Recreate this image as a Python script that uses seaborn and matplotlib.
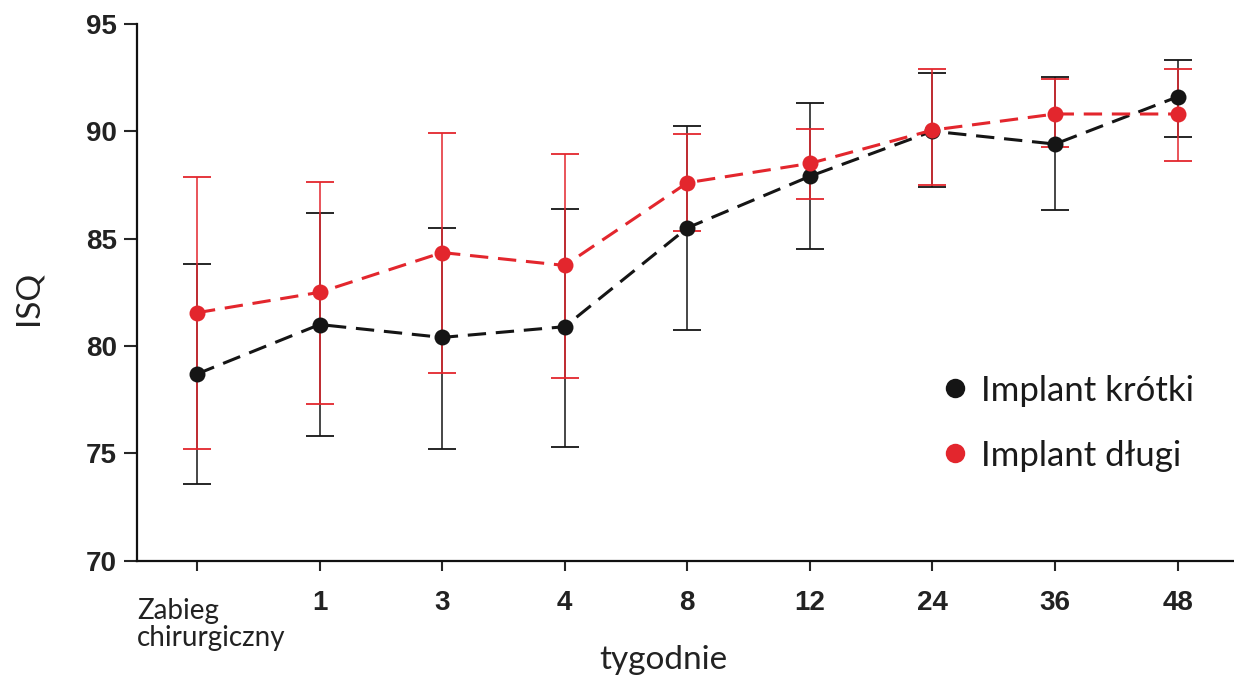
import numpy as np
import pandas as pd
import matplotlib
matplotlib.use("Agg")
import matplotlib.pyplot as plt
from matplotlib.lines import Line2D
import seaborn as sns

# Data
weeks = ["Zabieg\nchirurgiczny", "1", "3", "4", "8", "12", "24", "36", "48"]

short_mean = [78.7, 81.0, 80.4, 80.9, 85.5, 87.9, 90.0, 89.4, 91.6]
short_upper = [83.8, 86.2, 85.5, 86.4, 90.25, 91.3, 92.7, 92.5, 93.3]
short_lower = [73.6, 75.8, 75.2, 75.3, 80.75, 84.5, 87.4, 86.35, 89.75]

long_mean = [81.55, 82.5, 84.35, 83.75, 87.6, 88.5, 90.05, 90.8, 90.8]
long_upper = [87.85, 87.65, 89.9, 88.95, 89.85, 90.1, 92.9, 92.45, 92.9]
long_lower = [75.2, 77.3, 78.75, 78.5, 85.35, 86.85, 87.5, 89.25, 88.6]

labels = ["Implant krótki", "Implant długi"]
colors = {"Implant krótki": "#151515", "Implant długi": "#e3262d"}

pos = np.arange(len(weeks))
df = pd.DataFrame({
    "tydzien": np.concatenate([pos, pos]),
    "ISQ": short_mean + long_mean,
    "grupa": [labels[0]] * len(weeks) + [labels[1]] * len(weeks),
})

sns.set_theme(style="white")
plt.rcParams["font.family"] = ["Lato", "DejaVu Sans"]

fig = plt.figure(figsize=(12.34, 6.79), dpi=100)
ax = fig.add_axes([0.111, 0.174, 0.889, 0.791])

# error bars (black first, red on top)
ax.errorbar(pos, short_mean,
            yerr=[np.array(short_mean) - np.array(short_lower),
                  np.array(short_upper) - np.array(short_mean)],
            fmt="none", ecolor=colors[labels[0]], elinewidth=1.1,
            capsize=10, capthick=1.3, zorder=2)
ax.errorbar(pos, long_mean,
            yerr=[np.array(long_mean) - np.array(long_lower),
                  np.array(long_upper) - np.array(long_mean)],
            fmt="none", ecolor=colors[labels[1]], elinewidth=1.1,
            capsize=10, capthick=1.3, zorder=3)

sns.lineplot(data=df, x="tydzien", y="ISQ", hue="grupa", palette=colors,
             style="grupa", dashes={labels[0]: (6, 3.2), labels[1]: (6, 3.2)},
             markers={labels[0]: "o", labels[1]: "o"}, markersize=11.5,
             markeredgewidth=0, linewidth=2.2, legend=False, ax=ax, zorder=4)

ax.set_ylim(70, 95)
ax.set_xlim(-0.49, 8.46)
ax.set_yticks([70, 75, 80, 85, 90, 95])
ax.set_xticks(pos)
ax.set_xticklabels([""] + weeks[1:])

for lab in ax.get_xticklabels() + ax.get_yticklabels():
    lab.set_family(["Liberation Sans", "DejaVu Sans"])
    lab.set_fontweight("bold")
    lab.set_fontsize(20)
    lab.set_color("#222222")

ax.text(-0.49, -0.069, weeks[0], transform=ax.get_xaxis_transform(),
        ha="left", va="top", fontsize=20, color="#222222", linespacing=1.05)

ax.tick_params(axis="y", direction="out", length=9.5, width=1.5, pad=5, left=True)
ax.tick_params(axis="x", direction="out", length=7, width=1.5, pad=14, bottom=True)

sns.despine(ax=ax)
for s in ["left", "bottom"]:
    ax.spines[s].set_linewidth(1.6)
    ax.spines[s].set_color("#111111")

ax.set_xlabel("tygodnie", fontsize=24, color="#222222")
ax.xaxis.set_label_coords(0.48, -0.184)
ax.xaxis.label.set_va("center")
ax.set_ylabel("ISQ", fontsize=24, color="#222222")
ax.yaxis.set_label_coords(-0.099, 0.49)
ax.yaxis.label.set_va("center")

handles = [Line2D([], [], linestyle="none", marker="o", markersize=14,
                  markerfacecolor=colors[l], markeredgewidth=0) for l in labels]
ax.legend(handles, labels, loc="upper left", bbox_to_anchor=(0.698, 0.405),
          frameon=False, fontsize=25, labelspacing=0.95, handletextpad=0.15,
          handlelength=1.2)
for t in ax.get_legend().get_texts():
    t.set_color("#1a1a1a")

fig.savefig("out.png", dpi=100)
